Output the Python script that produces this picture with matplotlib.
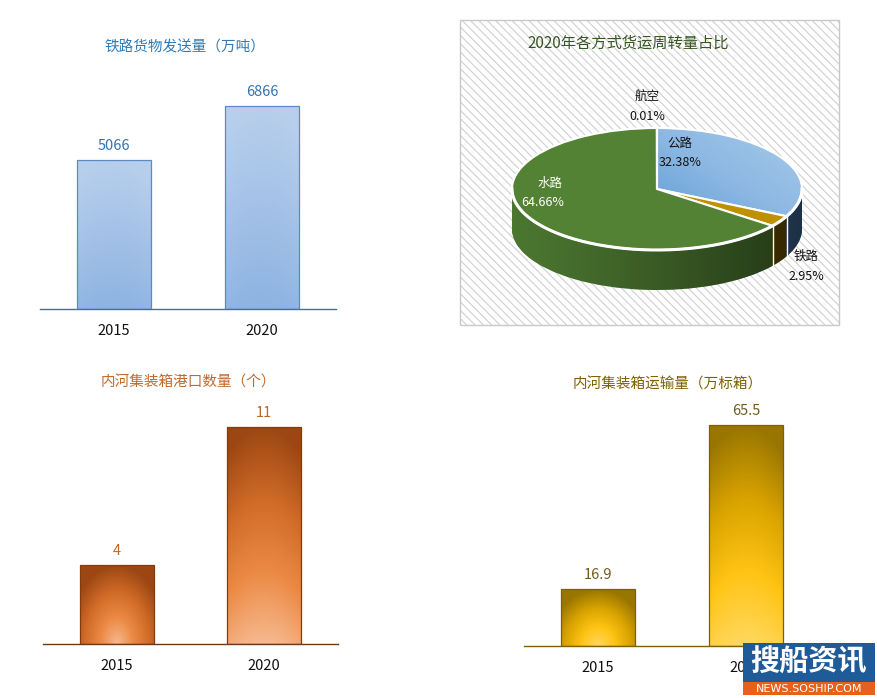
import numpy as np
import matplotlib
matplotlib.use('Agg')
import matplotlib.pyplot as plt
from matplotlib.colors import LinearSegmentedColormap, to_rgba
from matplotlib.patches import Rectangle, Polygon

plt.rcParams['font.family'] = ['Noto Sans CJK SC', 'DejaVu Sans']
plt.rcParams['hatch.color'] = '#D0D0D0'
plt.rcParams['hatch.linewidth'] = 0.8

# ---------------- data ----------------
years = ['2015', '2020']
rail_freight = [5066, 6866]          # 铁路货物发送量（万吨）
port_count = [4, 11]                 # 内河集装箱港口数量（个）
container_volume = [16.9, 65.5]      # 内河集装箱运输量（万标箱）
pie_labels = ['公路', '铁路', '水路', '航空']
pie_shares = [32.38, 2.95, 64.66, 0.01]

W, H = 878, 698
fig = plt.figure(figsize=(W / 100, H / 100), dpi=100)


def rect(l, t, r, b):
    return [l / W, 1 - b / H, (r - l) / W, (b - t) / H]


def fp(x, y):
    return (x / W, 1 - y / H)


def bar_panel(box, values, ymax, cmap_cols, modes, edge_color, axis_color,
              label_color, fmt):
    ax = fig.add_axes(rect(*box))
    ax.patch.set_visible(False)
    cmap = LinearSegmentedColormap.from_list('g', cmap_cols)
    x = np.arange(len(values))
    bars = ax.bar(x, values, width=0.5, facecolor='none',
                  edgecolor=edge_color, linewidth=0.9, zorder=3)
    for b, mode in zip(bars, modes):
        x0, w, h = b.get_x(), b.get_width(), b.get_height()
        U, V = np.meshgrid(np.linspace(0, 1, 80), np.linspace(0, 1, 240))
        if mode == 'radial':
            T = np.sqrt(0.55 * ((U - 0.5) * 2) ** 2 + V ** 2)
        else:
            T = V + 0.12 * ((U - 0.5) * 2) ** 2
        T = np.clip(T, 0, 1)
        im = ax.imshow(cmap(T), extent=[x0, x0 + w, 0, h], origin='lower',
                       aspect='auto', zorder=2, interpolation='bilinear')
        im.set_clip_path(b)
    for xi, v in zip(x, values):
        ax.annotate(fmt(v), (xi, v), xytext=(0, 5), textcoords='offset points',
                    ha='center', va='bottom', fontsize=10.5, color=label_color)
    ax.set_xlim(-0.5, len(values) - 0.5)
    ax.set_ylim(0, ymax)
    for s in ['top', 'left', 'right']:
        ax.spines[s].set_visible(False)
    ax.spines['bottom'].set_color(axis_color)
    ax.spines['bottom'].set_linewidth(1.0)
    ax.set_yticks([])
    ax.set_xticks(x)
    ax.set_xticklabels(years, fontsize=10.5, color='#111111')
    ax.tick_params(axis='x', length=0, pad=11)
    return ax


# ---------- panel 1: rail freight ----------
bar_panel((40, 60, 336, 309), rail_freight, 8440,
          ['#8DB3E2', '#A3C1E7', '#B8CFEC'], ['linear', 'linear'],
          '#5B8AC4', '#2E75B6', '#2E75B6', lambda v: f'{v}')
fig.text(*fp(185, 47), '铁路货物发送量（万吨）', ha='center', va='center',
         fontsize=10.5, color='#2E7BB8')

# ---------- panel 3: port count ----------
bar_panel((43, 395, 338, 644), port_count, 12.62,
          ['#F6B98F', '#EC8A45', '#CF6A27', '#9C4713'], ['radial', 'linear'],
          '#843C0C', '#6B3A1A', '#B8692C', lambda v: f'{v}')
fig.text(*fp(188, 383), '内河集装箱港口数量（个）', ha='center', va='center',
         fontsize=10.5, color='#C06A2C')

# ---------- panel 4: container volume ----------
bar_panel((524, 397, 820, 646), container_volume, 73.9,
          ['#FFD860', '#FFC414', '#D9A300', '#987600'], ['radial', 'linear'],
          '#7F6000', '#7F6000', '#6E5A1E', lambda v: f'{v}')
fig.text(*fp(668, 385), '内河集装箱运输量（万标箱）', ha='center', va='center',
         fontsize=10.5, color='#7F6000')

# ---------- panel 2: 3D pie ----------
bg = Rectangle(fp(460, 325), 379 / W, 305 / H, transform=fig.transFigure,
               facecolor='white', edgecolor='#D0D0D0', hatch='\\\\\\\\',
               linewidth=0, zorder=-2)
fig.add_artist(bg)
border = Rectangle(fp(460, 325), 379 / W, 305 / H, transform=fig.transFigure,
                   facecolor='none', edgecolor='#C8C8C8', linewidth=1.0,
                   zorder=-1)
fig.add_artist(border)
fig.text(*fp(628, 43), '2020年各方式货运周转量占比', ha='center', va='center',
         fontsize=11, color='#375623')

pax = fig.add_axes(rect(483, 97.5, 831, 311))
pax.patch.set_visible(False)
depth = 40 / 61
top_colors = ['#6FA4D9', '#BF9000', '#548235', '#A5A5A5']
side_colors = ['#3D6A96', '#6E5300', '#4B7630', '#777777']

for d in np.linspace(depth, 0.0, 45):
    ws, _ = pax.pie(pie_shares, colors=side_colors, startangle=90,
                    counterclock=False, center=(0, -d), radius=1,
                    wedgeprops=dict(linewidth=0), frame=True)
    for w_ in ws:
        w_.set_zorder(1)

# darkening gradient on the side
th = np.linspace(np.pi, 2 * np.pi, 200)
side_pts = np.column_stack([np.cos(th), np.sin(th) - depth])
side_pts = np.vstack([side_pts, [[1, 0], [-1, 0]]])
side_poly = Polygon(side_pts, closed=True, facecolor='none', edgecolor='none')
pax.add_patch(side_poly)
shade = np.zeros((10, 200, 4))
shade[..., 3] = np.linspace(0.0, 0.6, 200)[None, :] ** 1.2
im = pax.imshow(shade, extent=[-1, 1, -1 - depth, 0], origin='lower',
                aspect='auto', zorder=1.2, interpolation='bilinear')
im.set_clip_path(side_poly)

# seams on side at front-facing wedge boundaries
bounds = 90 - np.cumsum([0] + pie_shares) * 3.6
for a in np.deg2rad(bounds[1:-1]):
    if np.sin(a) < 0:
        pax.plot([np.cos(a), np.cos(a)], [np.sin(a), np.sin(a) - depth],
                 color='white', lw=1.0, zorder=1.5)

# top face
wedges, _ = pax.pie(pie_shares, colors=top_colors, startangle=90,
                    counterclock=False, radius=1,
                    wedgeprops=dict(edgecolor='white', linewidth=1.5),
                    frame=True)
for w_ in wedges:
    w_.set_zorder(3)
wedges[0].set_facecolor('none')
U, V = np.meshgrid(np.linspace(0, 1, 120), np.linspace(0, 1, 120))
T = np.clip((U + (1 - V)) / 2, 0, 1)
bcmap = LinearSegmentedColormap.from_list('b', ['#5B9BD5', '#8DB8E3', '#A9CBEA'])
gim = pax.imshow(bcmap(T), extent=[-0.05, 1.05, -0.7, 1.05], origin='upper',
                 aspect='auto', zorder=2.5, interpolation='bilinear')
gim.set_clip_path(wedges[0])
# white rim on front edge
pax.plot(np.cos(th), np.sin(th), color='white', lw=2.2, zorder=3.5)

pax.set_aspect('auto')
pax.set_xlim(-1.2, 1.2)
pax.set_ylim(-2, 1.5)
pax.axis('off')

# pie labels
lbl_pos = {'公路': ((680, 143), (680, 163), '#111111'),
           '铁路': ((806, 256), (806, 276), '#111111'),
           '水路': ((550, 183), (543, 203), 'white'),
           '航空': ((647, 96), (647, 116), '#111111')}
for name, share in zip(pie_labels, pie_shares):
    (p1, p2, c) = lbl_pos[name]
    fig.text(*fp(*p1), name, ha='center', va='center', fontsize=9, color=c)
    fig.text(*fp(*p2), f'{share:.2f}%', ha='center', va='center', fontsize=9,
             color=c)

# ---------- watermark ----------
fig.add_artist(Rectangle(fp(743, 682), 132 / W, 39 / H, transform=fig.transFigure,
                         facecolor='#1F5B98', edgecolor='none', zorder=10))
fig.add_artist(Rectangle(fp(743, 695), 132 / W, 13 / H, transform=fig.transFigure,
                         facecolor='#E8611A', edgecolor='none', zorder=10))
fig.text(*fp(808, 662), '搜船资讯', ha='center', va='center', fontsize=21,
         fontweight='bold', color='white', zorder=11)
fig.text(*fp(809, 689), 'NEWS.SOSHIP.COM', ha='center', va='center',
         fontsize=8, color='white', family='DejaVu Sans', zorder=11)

fig.savefig('out.png', dpi=100)
